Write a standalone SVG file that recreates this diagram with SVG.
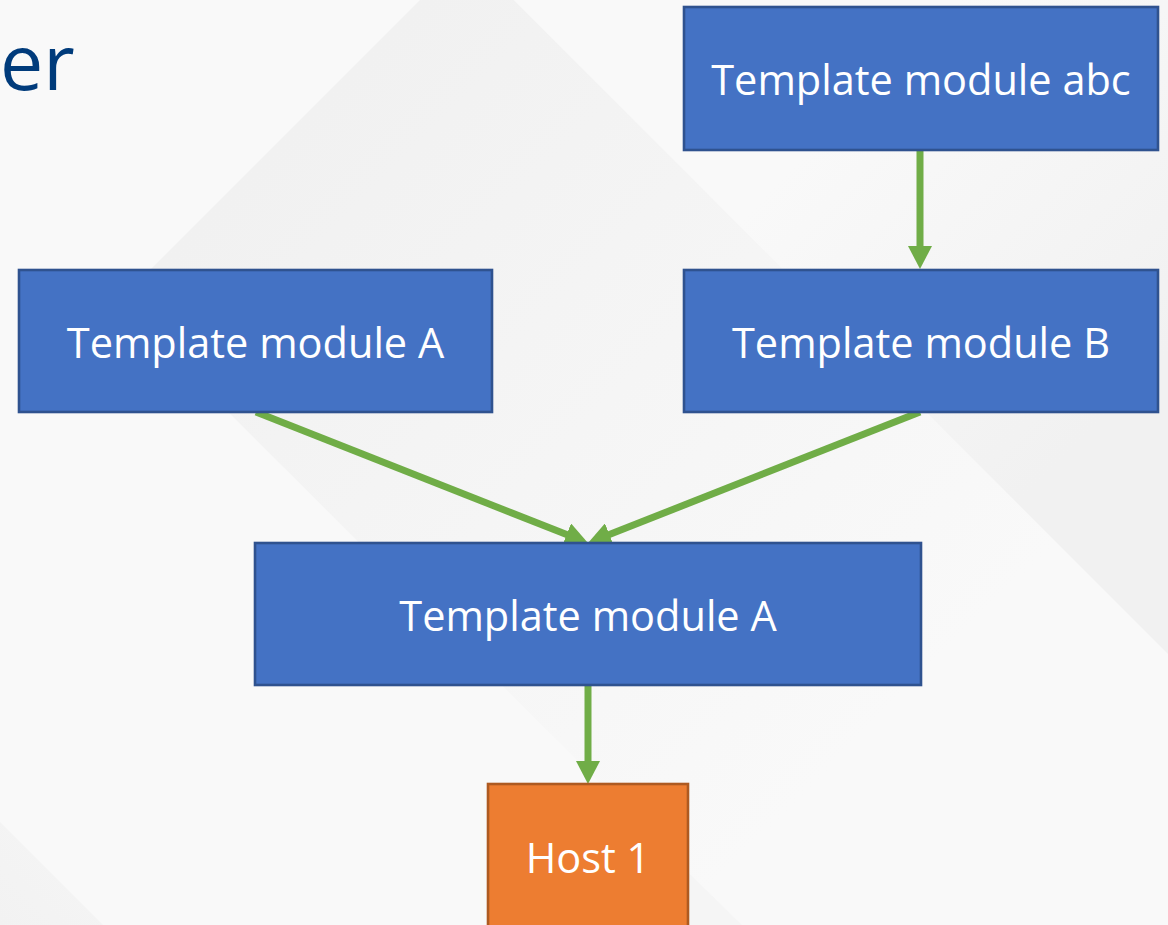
<svg xmlns="http://www.w3.org/2000/svg" width="1168" height="925" viewBox="0 0 1168 925">
  <defs>
    <style>
      .box { fill: #4472c4; stroke: #2f528f; stroke-width: 2.6; }
      .host { fill: #ed7d31; stroke: #ae5a21; stroke-width: 2.6; }
      .label { font-family: "Open Sans", "Noto Sans", "Liberation Sans", sans-serif; font-size: 41.5px; fill: #ffffff; text-anchor: middle; }
      .title { font-family: "Open Sans", "Noto Sans", "Liberation Sans", sans-serif; font-size: 77px; fill: #003b7b; }
      .link { stroke: #70ad47; stroke-width: 7; fill: none; marker-end: url(#arrow); }
    </style>
    <marker id="arrow" viewBox="0 0 23 24" refX="13" refY="12" markerWidth="23" markerHeight="24" markerUnits="userSpaceOnUse" orient="auto">
      <path d="M0,0 L23,12 L0,24 Z" fill="#70ad47"/>
    </marker>
    <!-- soft diagonal facets of the backdrop -->
    <linearGradient id="facetLeft" gradientUnits="userSpaceOnUse" x1="210" y1="210" x2="800" y2="800">
      <stop offset="0" stop-color="#f1f1f1"/>
      <stop offset="1" stop-color="#f9f9f9"/>
    </linearGradient>
    <linearGradient id="facetRight" gradientUnits="userSpaceOnUse" x1="480" y1="480" x2="760" y2="760">
      <stop offset="0" stop-color="#f9f9f9"/>
      <stop offset="1" stop-color="#f1f1f1"/>
    </linearGradient>
    <linearGradient id="facetLow" gradientUnits="userSpaceOnUse" x1="0" y1="925" x2="120" y2="805">
      <stop offset="0" stop-color="#f2f2f2"/>
      <stop offset="1" stop-color="#f6f6f6"/>
    </linearGradient>
  </defs>

  <!-- backdrop -->
  <g id="background">
    <rect x="0" y="0" width="1168" height="925" fill="#f9f9f9"/>
    <polygon points="420,0 514,0 1168,654 1168,925 742,925 118,302" fill="url(#facetLeft)"/>
    <polygon points="514,0 1168,0 1168,654" fill="url(#facetRight)"/>
    <polygon points="0,822 103,925 0,925" fill="url(#facetLow)"/>
    <polygon points="742,925 600,925 650,835" fill="#f4f4f4" opacity="0.7"/>
  </g>

  <text class="title" x="0" y="90">er</text>

  <g id="connectors">
    <line class="link" x1="920" y1="150" x2="920" y2="259"/>
    <line class="link" x1="256" y1="412" x2="578.7" y2="539.3"/>
    <line class="link" x1="920" y1="412" x2="597.3" y2="539.3"/>
    <line class="link" x1="588" y1="685" x2="588" y2="774"/>
  </g>

  <g id="node-abc">
    <rect class="box" x="684" y="7" width="474" height="143"/>
    <text class="label" x="921" y="95">Template module abc</text>
  </g>

  <g id="node-a-top">
    <rect class="box" x="19" y="270" width="473" height="142"/>
    <text class="label" x="255.5" y="358">Template module A</text>
  </g>

  <g id="node-b">
    <rect class="box" x="684" y="270" width="474" height="142"/>
    <text class="label" x="921" y="358">Template module B</text>
  </g>

  <g id="node-a-mid">
    <rect class="box" x="255" y="543" width="666" height="142"/>
    <text class="label" x="588" y="631">Template module A</text>
  </g>

  <g id="node-host">
    <rect class="host" x="488" y="784" width="200" height="160"/>
    <text class="label" x="588" y="873">Host 1</text>
  </g>
</svg>
